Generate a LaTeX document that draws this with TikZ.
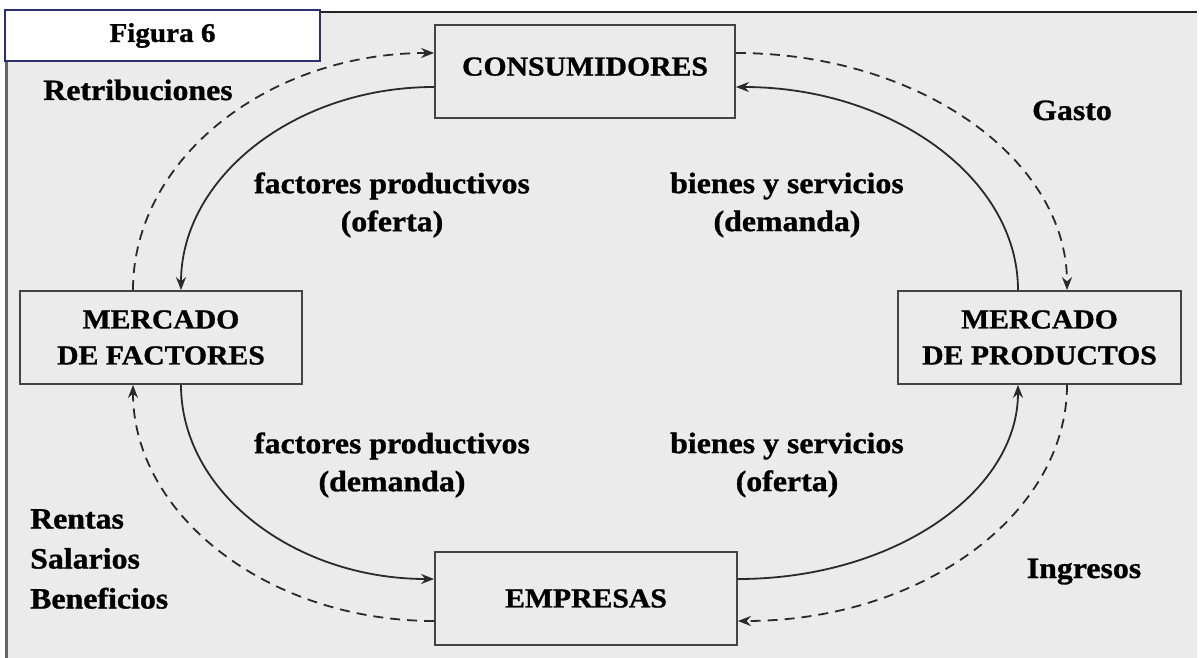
\documentclass[tikz,border=0pt]{standalone}
\usepackage{fontspec}
\setmainfont[FakeStretch=1.08, BoldFeatures={FakeBold=1.0}]{Liberation Serif}
\usetikzlibrary{arrows.meta}
\definecolor{bg}{HTML}{EBEBEB}
\definecolor{ln}{HTML}{2A2A2A}
\definecolor{bx}{HTML}{444444}
\definecolor{navy}{HTML}{2B3170}
\definecolor{frameline}{HTML}{222222}
\definecolor{leftline}{HTML}{666666}
\begin{document}
\begin{tikzpicture}[x=1pt,y=-1pt,
  box/.style={draw=bx, line width=1.8pt, fill=bg, minimum height=93pt, inner sep=0pt, align=center, font=\fontsize{27.5}{36}\selectfont\bfseries},
  lbl/.style={align=center, inner sep=0pt, font=\fontsize{29.5}{38}\selectfont\bfseries},
  side/.style={inner sep=0pt, font=\fontsize{29.5}{40}\selectfont\bfseries},
  flow/.style={draw=ln, line width=1.8pt, -{Stealth[length=13pt,width=10pt]}},
  money/.style={flow, dash pattern=on 10pt off 7pt}]
\useasboundingbox (0,0) rectangle (1200,658);
\fill[white] (0,0) rectangle (1200,658);
\fill[bg] (7,12) rectangle (1197,658);
\draw[frameline, line width=2pt] (7,12) -- (1197,12);
\draw[leftline, line width=3pt] (6.5,12) -- (6.5,658);

\node[draw=navy, fill=white, line width=1.5pt, minimum width=315pt, minimum height=51pt, inner sep=0pt,
      font=\fontsize{27}{30}\selectfont\bfseries] (fig) at (162.5,35.5) {Figura 6};

\node[box, minimum width=300pt, text depth=10pt] (cons) at (585,71.5) {CONSUMIDORES};
\node[box, minimum width=282pt] (fac) at (161,337.5) {MERCADO\\DE FACTORES};
\node[box, minimum width=283pt] (prod) at (1039.5,337.5) {MERCADO\\DE PRODUCTOS};
\node[box, minimum width=302pt] (emp) at (586,598.5) {EMPRESAS};

% real flows
\draw[flow] ([yshift=-15.5pt]cons.west) .. controls +(-140,0) and +(0,-112) .. ([xshift=20pt]fac.north);
\draw[flow] ([xshift=20pt]fac.south) .. controls +(0,107) and +(-140,0) .. ([yshift=19.5pt]emp.west);
\draw[flow] ([yshift=19.5pt]emp.east) .. controls +(156,0) and +(0,107) .. ([xshift=-21.5pt]prod.south);
\draw[flow] ([xshift=-21.5pt]prod.north) .. controls +(0,-112) and +(156,0) .. ([yshift=-15.5pt]cons.east);

% money flows
\draw[money] ([xshift=-28pt]fac.north) .. controls +(0,-131) and +(-166,0) .. ([yshift=18.5pt]cons.west);
\draw[money] ([yshift=18.5pt]cons.east) .. controls +(183,0) and +(0,-131) .. ([xshift=27.5pt]prod.north);
\draw[money] ([xshift=27.5pt]prod.south) .. controls +(0,130) and +(183,0) .. ([yshift=-22.5pt]emp.east);
\draw[money] ([yshift=-22.5pt]emp.west) .. controls +(-166,0) and +(0,130) .. ([xshift=-28pt]fac.south);

% labels
\node[lbl] (fo) at (392,205) {factores productivos\\(oferta)};
\node[lbl] (bd) at (787,205) {bienes y servicios\\(demanda)};
\node[lbl] (fd) at (392,465) {factores productivos\\(demanda)};
\node[lbl] (bo) at (787,465) {bienes y servicios\\(oferta)};

\node[side, anchor=base] (ret) at (138,100) {Retribuciones};
\node[side, anchor=base] (gas) at (1072,120) {Gasto};
\node[side, anchor=base] (ing) at (1084,578) {Ingresos};
\node[side, align=left, anchor=west] (rsb) at (30,559) {Rentas\\Salarios\\Beneficios};
\end{tikzpicture}
\end{document}
